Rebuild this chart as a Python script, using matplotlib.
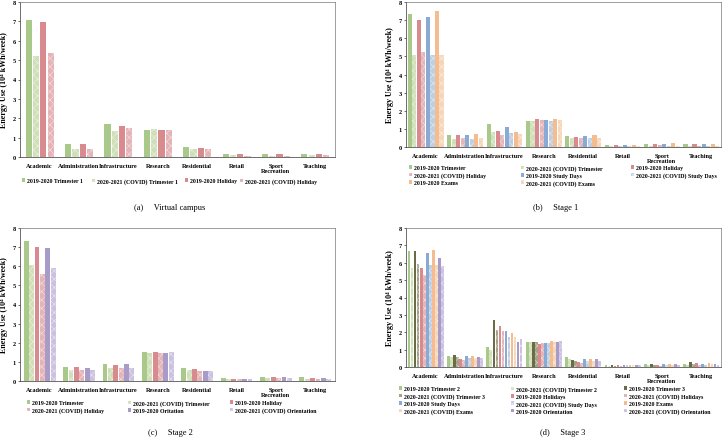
"""Weekly energy use per building category: virtual campus and stages 1-3."""

import matplotlib

matplotlib.use("Agg")

import matplotlib.pyplot as plt  # noqa: E402
import numpy as np  # noqa: E402
from matplotlib.colors import to_rgb  # noqa: E402
from matplotlib.patches import Patch  # noqa: E402

plt.rcParams["font.family"] = ["Liberation Serif", "DejaVu Serif"]
plt.rcParams["hatch.linewidth"] = 0.4

categories = ["Academic", "Administration", "Infrastructure", "Research",
              "Residential", "Retail", "Sport\nRecreation", "Teaching"]

# (a) virtual campus
labels_a = ["2019-2020 Trimester 1", "2020-2021 (COVID) Trimester 1",
            "2019-2020 Holiday", "2020-2021 (COVID) Holiday"]
values_a = [
    [7.08, 0.65, 1.70, 1.38, 0.52, 0.15, 0.15, 0.18],
    [5.22, 0.43, 1.32, 1.42, 0.42, 0.08, 0.05, 0.12],
    [6.95, 0.68, 1.60, 1.37, 0.47, 0.15, 0.15, 0.14],
    [5.37, 0.40, 1.52, 1.37, 0.40, 0.07, 0.06, 0.12],
]

# (b) stage 1
labels_b = ["2019-2020 Trimester", "2020-2021 (COVID) Trimester",
            "2019-2020 Holiday", "2020-2021 (COVID) Holiday",
            "2019-2020 Study Days", "2020-2021 (COVID) Study Days",
            "2019-2020 Exams", "2020-2021 (COVID) Exams"]
values_b = [
    [7.35, 0.68, 1.28, 1.42, 0.58, 0.13, 0.18, 0.18],
    [5.10, 0.42, 0.83, 1.45, 0.47, 0.07, 0.07, 0.08],
    [7.00, 0.68, 0.91, 1.52, 0.53, 0.13, 0.18, 0.17],
    [5.22, 0.47, 0.68, 1.48, 0.47, 0.08, 0.10, 0.08],
    [7.15, 0.68, 1.08, 1.50, 0.60, 0.13, 0.18, 0.18],
    [5.05, 0.45, 0.75, 1.45, 0.52, 0.08, 0.07, 0.08],
    [7.52, 0.72, 0.85, 1.57, 0.68, 0.13, 0.22, 0.19],
    [5.05, 0.47, 0.72, 1.50, 0.50, 0.07, 0.08, 0.08],
]

# (c) stage 2
labels_c = ["2019-2020 Trimester", "2020-2021 (COVID) Trimester",
            "2019-2020 Holiday", "2020-2021 (COVID) Holiday",
            "2019-2020 Oritation", "2020-2021 (COVID) Orientation"]
values_c = [
    [7.30, 0.73, 0.88, 1.52, 0.68, 0.15, 0.20, 0.20],
    [6.05, 0.60, 0.70, 1.45, 0.55, 0.10, 0.15, 0.08],
    [7.00, 0.72, 0.83, 1.53, 0.62, 0.13, 0.20, 0.18],
    [5.60, 0.55, 0.68, 1.48, 0.50, 0.09, 0.15, 0.08],
    [6.95, 0.68, 0.90, 1.48, 0.53, 0.13, 0.20, 0.18],
    [5.93, 0.60, 0.68, 1.50, 0.52, 0.10, 0.15, 0.08],
]

# (d) stage 3
labels_d = ["2019-2020 Trimester 2", "2020-2021 (COVID) Trimester 2",
            "2019-2020 Trimester 3", "2020-2021 (COVID) Trimester 3",
            "2019-2020 Holidays", "2020-2021 (COVID) Holidays",
            "2019-2020 Study Days", "2020-2021 (COVID) Study Days",
            "2019-2020 Exams", "2020-2021 (COVID) Exams",
            "2019-2020 Orientation", "2020-2021 (COVID) Orientation"]
values_d = [
    [6.68, 0.65, 1.15, 1.42, 0.58, 0.13, 0.17, 0.20],
    [5.72, 0.55, 0.98, 1.42, 0.45, 0.08, 0.12, 0.12],
    [6.65, 0.68, 2.70, 1.45, 0.38, 0.12, 0.15, 0.28],
    [5.90, 0.55, 2.12, 1.45, 0.32, 0.08, 0.10, 0.15],
    [5.72, 0.45, 2.35, 1.32, 0.30, 0.10, 0.12, 0.22],
    [5.30, 0.38, 2.05, 1.40, 0.25, 0.07, 0.08, 0.13],
    [6.55, 0.62, 2.05, 1.38, 0.45, 0.13, 0.15, 0.20],
    [5.85, 0.50, 1.72, 1.38, 0.35, 0.10, 0.12, 0.12],
    [6.72, 0.65, 1.98, 1.48, 0.45, 0.13, 0.15, 0.22],
    [5.85, 0.50, 1.75, 1.45, 0.32, 0.10, 0.12, 0.15],
    [6.30, 0.60, 1.45, 1.42, 0.45, 0.12, 0.15, 0.20],
    [5.80, 0.52, 1.60, 1.48, 0.35, 0.10, 0.12, 0.12],
]

GREEN = ("#a9c98a", "#cfdfb8")
OLIVE = ("#6b6b45", "#a4a285")
RED = ("#d98a8e", "#e4b4b7")
BLUE = ("#8aaad6", "#bfcfe2")
ORANGE = ("#f5bd8f", "#f6d6b8")
PURPLE = ("#a99bc8", "#cbc1e0")

W, H = 722, 439
FS = 4.5       # tick labels
LFS = 4.2      # legend entries


def box(left, top, right, bottom):
    return [left / W, 1 - bottom / H, (right - left) / W, (bottom - top) / H]


def lighter(c, amount=0.6):
    r, g, b = to_rgb(c)
    return (r + (1 - r) * amount, g + (1 - g) * amount, b + (1 - b) * amount)


def draw_panel(fig, rect, values, labels, pairs, group, fill, caption, cap_xy,
               legend_cols, ylabel_x):
    ax = fig.add_axes(box(*rect))
    x = np.arange(len(categories))
    n = len(values)
    step = group / n
    handles = []
    for i, (vals, lab) in enumerate(zip(values, labels)):
        solid, light = pairs[i // 2]
        pos = x - group / 2 + step * (i + 0.5)
        if i % 2 == 0:
            kw = dict(color=solid, linewidth=0)
        else:
            kw = dict(facecolor=light, edgecolor=lighter(light), hatch="xxxx",
                      linewidth=0)
        ax.bar(pos, vals, width=step * fill, **kw)
        handles.append(Patch(label=lab, **kw))

    ax.set_xlim(-0.5, len(categories) - 0.5)
    ax.set_ylim(0, 8)
    ax.set_yticks(range(9))
    ax.set_xticks(x)
    ax.set_xticklabels(categories, linespacing=1.0, fontsize=FS,
                       fontweight="bold")
    ax.tick_params(axis="x", length=0, pad=4)
    ax.tick_params(axis="y", length=1.5, width=0.4, pad=1.5)
    for t in ax.get_yticklabels():
        t.set_fontsize(FS)
        t.set_fontweight("bold")
    for s in ax.spines.values():
        s.set_linewidth(0.5)
        s.set_color("#777777")
    ax.spines["left"].set_color("#333333")
    ax.spines["bottom"].set_color("#333333")

    fig.text(ylabel_x / W, 1 - ((rect[1] + rect[3]) / 2) / H,
             "Energy Use (10⁴ kWh/week)", rotation=90, ha="center",
             va="center", fontsize=5.8, fontweight="bold")

    # legend columns, entries in row-major order like the source figure
    for col, (cx, cy) in enumerate(legend_cols):
        hs = handles[col::len(legend_cols)]
        if not hs:
            continue
        fig.legend(handles=hs, loc="upper left",
                   bbox_to_anchor=(cx / W, 1 - cy / H), frameon=False,
                   prop=dict(size=LFS, weight="bold"), handlelength=0.55,
                   handleheight=0.55, handletextpad=0.3, labelspacing=0.35,
                   borderpad=0, borderaxespad=0)

    fig.text(cap_xy[0] / W, 1 - cap_xy[1] / H, caption, ha="center",
             va="center", fontsize=6)
    return ax


def main():
    fig = plt.figure(figsize=(W / 100, H / 100), dpi=100)

    draw_panel(fig, (20, 3, 335, 158), values_a, labels_a, [GREEN, RED],
               0.74, 0.85, "(a)     Virtual campus", (170, 208),
               [(22, 179), (92, 179), (185, 179), (240, 179)], 4)
    draw_panel(fig, (406, 3, 721, 148), values_b, labels_b,
               [GREEN, RED, BLUE, ORANGE], 0.92, 0.9, "(b)     Stage 1",
               (556, 208), [(409, 166), (521, 166), (631, 166)], 390)
    draw_panel(fig, (20, 229, 335, 382), values_c, labels_c,
               [GREEN, RED, PURPLE], 0.82, 0.9, "(c)     Stage 2",
               (170, 433), [(27, 401), (128, 401), (230, 401)], 4)
    draw_panel(fig, (406, 229, 721, 368), values_d, labels_d,
               [GREEN, OLIVE, RED, BLUE, ORANGE, PURPLE], 0.92, 0.9,
               "(d)     Stage 3", (563, 433),
               [(399, 387), (511, 387), (624, 387)], 390)

    fig.savefig("out.png", dpi=100)
    plt.close(fig)


if __name__ == "__main__":
    main()
